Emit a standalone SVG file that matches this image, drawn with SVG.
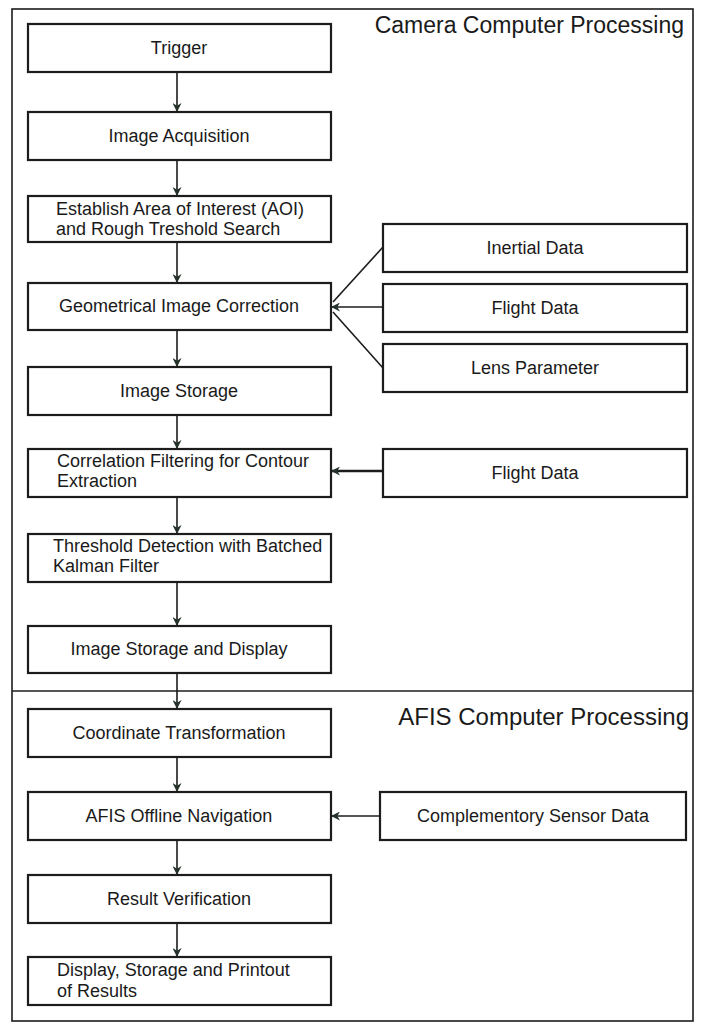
<svg xmlns="http://www.w3.org/2000/svg" width="701" height="1026" viewBox="0 0 701 1026">
  <style>
    .box { fill: #ffffff; stroke: #1c1c1c; stroke-width: 2.2; }
    .lbl { font-family: "Liberation Sans", Arial, sans-serif; font-size: 18px; fill: #1a1a1a; }
    .c { text-anchor: middle; }
    .title { font-family: "Liberation Sans", Arial, sans-serif; fill: #1a1a1a; text-anchor: end; }
    .frame { fill: none; stroke: #1c1c1c; stroke-width: 1.6; }
    .conn { fill: none; stroke: #1c1c1c; stroke-width: 1.6; }
    .thick { stroke-width: 2.4; }
  </style>
  <defs>
    <marker id="arrow" viewBox="0 0 10 10" refX="10" refY="5" markerWidth="9" markerHeight="9" markerUnits="userSpaceOnUse" orient="auto">
      <path d="M0,0 L10,5 L0,10 L3,5 z" fill="#24322a"/>
    </marker>
  </defs>

  <rect width="701" height="1026" fill="#ffffff"/>

  <!-- outer frame and section divider -->
  <rect class="frame" x="12" y="9" width="681" height="1012"/>
  <line class="frame" x1="12" y1="691" x2="693" y2="691"/>

  <text class="title" x="684" y="33" font-size="23">Camera Computer Processing</text>
  <text class="title" x="689" y="725" font-size="24">AFIS Computer Processing</text>

  <!-- connectors -->
  <g id="connectors">
    <line class="conn" x1="177" y1="72" x2="177" y2="112" marker-end="url(#arrow)"/>
    <line class="conn" x1="177" y1="160" x2="177" y2="196" marker-end="url(#arrow)"/>
    <line class="conn" x1="177" y1="242" x2="177" y2="283" marker-end="url(#arrow)"/>
    <line class="conn" x1="177" y1="330" x2="177" y2="367" marker-end="url(#arrow)"/>
    <line class="conn" x1="177" y1="415" x2="177" y2="449" marker-end="url(#arrow)"/>
    <line class="conn" x1="177" y1="497" x2="177" y2="534" marker-end="url(#arrow)"/>
    <line class="conn" x1="177" y1="582" x2="177" y2="626" marker-end="url(#arrow)"/>
    <line class="conn" x1="177" y1="673" x2="177" y2="709" marker-end="url(#arrow)"/>
    <line class="conn" x1="177" y1="757" x2="177" y2="792" marker-end="url(#arrow)"/>
    <line class="conn" x1="177" y1="840" x2="177" y2="875" marker-end="url(#arrow)"/>
    <line class="conn" x1="177" y1="923" x2="177" y2="957" marker-end="url(#arrow)"/>
    <!-- sensor inputs fanning into the image correction -->
    <line class="conn" x1="383" y1="247" x2="333" y2="302"/>
    <line class="conn" x1="383" y1="307" x2="331" y2="307" marker-end="url(#arrow)"/>
    <line class="conn" x1="383" y1="368" x2="333" y2="312"/>
    <line class="conn thick" x1="383" y1="471" x2="331" y2="471" marker-end="url(#arrow)"/>
    <line class="conn" x1="380" y1="816" x2="331" y2="816" marker-end="url(#arrow)"/>
  </g>

  <!-- main processing chain -->
  <g id="trigger">
    <rect class="box" x="28" y="24" width="303" height="48"/>
    <text class="lbl c" x="179" y="54">Trigger</text>
  </g>
  <g id="image-acquisition">
    <rect class="box" x="28" y="112" width="303" height="48"/>
    <text class="lbl c" x="179" y="142">Image Acquisition</text>
  </g>
  <g id="aoi">
    <rect class="box" x="28" y="196" width="303" height="46"/>
    <text class="lbl" x="56" y="215">Establish Area of Interest (AOI)</text>
    <text class="lbl" x="56" y="235">and Rough Treshold Search</text>
  </g>
  <g id="geometric-correction">
    <rect class="box" x="28" y="283" width="303" height="47"/>
    <text class="lbl c" x="179" y="312">Geometrical Image Correction</text>
  </g>
  <g id="image-storage">
    <rect class="box" x="28" y="367" width="303" height="48"/>
    <text class="lbl c" x="179" y="397">Image Storage</text>
  </g>
  <g id="correlation-filtering">
    <rect class="box" x="28" y="449" width="303" height="48"/>
    <text class="lbl" x="57" y="467">Correlation Filtering for Contour</text>
    <text class="lbl" x="57" y="487">Extraction</text>
  </g>
  <g id="threshold-detection">
    <rect class="box" x="28" y="534" width="303" height="48"/>
    <text class="lbl" x="53" y="552">Threshold Detection with Batched</text>
    <text class="lbl" x="53" y="572">Kalman Filter</text>
  </g>
  <g id="storage-display">
    <rect class="box" x="28" y="626" width="303" height="47"/>
    <text class="lbl c" x="179" y="655">Image Storage and Display</text>
  </g>
  <g id="coordinate-transformation">
    <rect class="box" x="28" y="709" width="303" height="48"/>
    <text class="lbl c" x="179" y="739">Coordinate Transformation</text>
  </g>
  <g id="afis-navigation">
    <rect class="box" x="28" y="792" width="303" height="48"/>
    <text class="lbl c" x="179" y="822">AFIS Offline Navigation</text>
  </g>
  <g id="result-verification">
    <rect class="box" x="28" y="875" width="303" height="48"/>
    <text class="lbl c" x="179" y="905">Result Verification</text>
  </g>
  <g id="results-output">
    <rect class="box" x="28" y="957" width="303" height="48"/>
    <text class="lbl" x="57" y="976">Display, Storage and Printout</text>
    <text class="lbl" x="57" y="997">of Results</text>
  </g>

  <!-- input data sources -->
  <g id="inertial-data">
    <rect class="box" x="383" y="224" width="304" height="48"/>
    <text class="lbl c" x="535" y="254">Inertial Data</text>
  </g>
  <g id="flight-data-1">
    <rect class="box" x="383" y="284" width="304" height="48"/>
    <text class="lbl c" x="535" y="314">Flight Data</text>
  </g>
  <g id="lens-parameter">
    <rect class="box" x="383" y="344" width="304" height="48"/>
    <text class="lbl c" x="535" y="374">Lens Parameter</text>
  </g>
  <g id="flight-data-2">
    <rect class="box" x="383" y="449" width="304" height="48"/>
    <text class="lbl c" x="535" y="479">Flight Data</text>
  </g>
  <g id="complementary-sensor">
    <rect class="box" x="380" y="792" width="306" height="48"/>
    <text class="lbl c" x="533" y="822">Complementory Sensor Data</text>
  </g>
</svg>
